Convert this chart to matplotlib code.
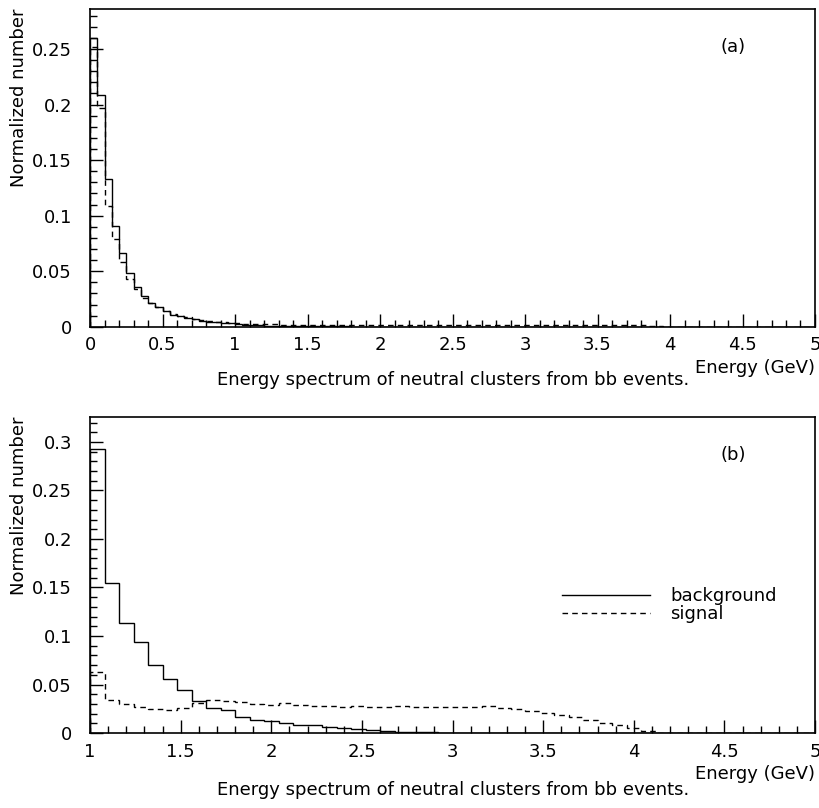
#!/usr/bin/env python3
import numpy as np
import matplotlib

matplotlib.use("Agg")
import matplotlib.pyplot as plt
from matplotlib.ticker import MultipleLocator, FormatStrFormatter

# (a) all clusters, 0-5 GeV, 100 bins of 0.05 GeV
edges_a = np.linspace(0.0, 5.0, 101)
background_a = [
    0.260, 0.209, 0.133, 0.091, 0.066, 0.048, 0.036, 0.028, 0.0215, 0.018,
    0.014, 0.011, 0.0098, 0.0083, 0.0068, 0.0054, 0.0045, 0.0040, 0.0033, 0.0030,
    0.0024, 0.0018, 0.0014, 0.0012, 0.0010, 0.0009, 0.0008, 0.0007, 0.0006, 0.0005,
    0.0005, 0.0004, 0.0004, 0.0003, 0.0003, 0.0003, 0.0002, 0.0002, 0.0002, 0.0002,
    0.0001, 0.0001, 0.0001, 0.0001, 0.0001, 0.0001, 0.0001, 0.0, 0.0001, 0.0,
    0.0, 0.0, 0.0, 0.0, 0.0, 0.0, 0.0, 0.0, 0.0, 0.0,
    0.0, 0.0, 0.0, 0.0, 0.0, 0.0, 0.0, 0.0, 0.0, 0.0,
    0.0, 0.0, 0.0, 0.0, 0.0, 0.0, 0.0, 0.0, 0.0, 0.0,
    0.0, 0.0, 0.0, 0.0, 0.0, 0.0, 0.0, 0.0, 0.0, 0.0,
    0.0, 0.0, 0.0, 0.0, 0.0, 0.0, 0.0, 0.0, 0.0, 0.0,
]
signal_a = [
    0.252, 0.197, 0.109, 0.079, 0.058, 0.043, 0.034, 0.026, 0.021, 0.018,
    0.014, 0.0115, 0.0098, 0.0085, 0.0072, 0.0062, 0.0053, 0.0046, 0.0040, 0.0035,
    0.0030, 0.0027, 0.0025, 0.0023, 0.0022, 0.0021, 0.0020, 0.0020, 0.0019, 0.0020,
    0.0019, 0.0018, 0.0019, 0.0018, 0.0017, 0.0018, 0.0017, 0.0018, 0.0017, 0.0016,
    0.0017, 0.0016, 0.0017, 0.0016, 0.0017, 0.0016, 0.0016, 0.0017, 0.0016, 0.0015,
    0.0016, 0.0016, 0.0015, 0.0016, 0.0015, 0.0016, 0.0015, 0.0016, 0.0015, 0.0016,
    0.0016, 0.0015, 0.0016, 0.0017, 0.0016, 0.0015, 0.0016, 0.0015, 0.0016, 0.0015,
    0.0015, 0.0016, 0.0014, 0.0015, 0.0013, 0.0012, 0.0012, 0.0008, 0.0004, 0.0001,
    0.0, 0.0, 0.0, 0.0, 0.0, 0.0, 0.0, 0.0, 0.0, 0.0,
    0.0, 0.0, 0.0, 0.0, 0.0, 0.0, 0.0, 0.0, 0.0, 0.0,
]

# (b) clusters above 1 GeV, 1-5 GeV, 50 bins of 0.08 GeV
edges_b = np.linspace(1.0, 5.0, 51)
background_b = [
    0.293, 0.155, 0.113, 0.094, 0.070, 0.056, 0.044, 0.033, 0.026, 0.024,
    0.016, 0.013, 0.012, 0.010, 0.0085, 0.008, 0.0065, 0.005, 0.004, 0.003,
    0.0022, 0.0015, 0.001, 0.0008, 0.0005, 0.0004, 0.0002, 0.0002, 0.0001, 0.0001,
    0.0, 0.0, 0.0, 0.0, 0.0, 0.0, 0.0, 0.0, 0.0, 0.0,
    0.0, 0.0, 0.0, 0.0, 0.0, 0.0, 0.0, 0.0, 0.0, 0.0,
]
signal_b = [
    0.063, 0.034, 0.030, 0.027, 0.025, 0.024, 0.026, 0.031, 0.034, 0.033,
    0.032, 0.030, 0.029, 0.031, 0.029, 0.028, 0.0275, 0.027, 0.0275, 0.027,
    0.027, 0.0275, 0.027, 0.027, 0.027, 0.027, 0.027, 0.028, 0.026, 0.025,
    0.023, 0.021, 0.019, 0.016, 0.013, 0.010, 0.008, 0.005, 0.002, 0.0003,
    0.0, 0.0, 0.0, 0.0, 0.0, 0.0, 0.0, 0.0, 0.0, 0.0,
]

caption = "Energy spectrum of neutral clusters from bb events."
FS = 13
DASH = (0, (4, 3))


def style_axes(ax, xlim, ylim):
    ax.set_xlim(*xlim)
    ax.set_ylim(*ylim)
    ax.xaxis.set_major_locator(MultipleLocator(0.5))
    ax.xaxis.set_minor_locator(MultipleLocator(0.1))
    ax.yaxis.set_major_locator(MultipleLocator(0.05))
    ax.yaxis.set_minor_locator(MultipleLocator(0.01))
    ax.xaxis.set_major_formatter(FormatStrFormatter("%g"))
    ax.yaxis.set_major_formatter(FormatStrFormatter("%g"))
    ax.tick_params(which="both", direction="in", top=False, right=False,
                   width=1.0, labelsize=FS)
    ax.tick_params(which="major", length=9.5)
    ax.tick_params(which="minor", length=5)
    ax.tick_params(axis="x", which="major", pad=7)
    ax.tick_params(axis="y", which="major", pad=13)
    for sp in ax.spines.values():
        sp.set_linewidth(1.2)
    ax.set_xlabel("Energy (GeV)", loc="right", fontsize=FS, labelpad=3)
    ax.set_ylabel("Normalized number", loc="top", fontsize=FS, labelpad=3)


def main() -> int:
    plt.rcParams["font.family"] = ["DejaVu Sans"]
    fig = plt.figure(figsize=(8.2, 8.08), dpi=100)

    ax_a = fig.add_axes([0.1098, 0.5956, 0.8841, 0.3933])
    ax_b = fig.add_axes([0.1098, 0.0928, 0.8841, 0.3915])

    ax_a.stairs(background_a, edges_a, color="black", lw=1.0)
    ax_a.stairs(signal_a, edges_a, color="black", lw=1.0, linestyle=DASH)
    style_axes(ax_a, (0, 5), (0, 0.286))
    ax_a.text(0.887, 0.88, "(a)", transform=ax_a.transAxes, fontsize=FS,
              ha="center", va="center")

    ax_b.stairs(background_b, edges_b, color="black", lw=1.0)
    ax_b.stairs(signal_b, edges_b, color="black", lw=1.0, linestyle=DASH)
    style_axes(ax_b, (1, 5), (0, 0.326))
    ax_b.text(0.887, 0.88, "(b)", transform=ax_b.transAxes, fontsize=FS,
              ha="center", va="center")

    handles = [
        plt.Line2D([], [], color="black", lw=1.0),
        plt.Line2D([], [], color="black", lw=1.0, linestyle=DASH),
    ]
    ax_b.legend(handles, ["background", "signal"], loc="center left",
                bbox_to_anchor=(0.651, 0.404), frameon=False, fontsize=13,
                handlelength=4.9, handletextpad=1.1, labelspacing=0.0,
                borderpad=0, borderaxespad=0)

    fig.text(0.552, 0.530, caption, ha="center", va="center", fontsize=FS)
    fig.text(0.552, 0.022, caption, ha="center", va="center", fontsize=FS)

    fig.savefig("out.png", dpi=100)
    return 0


if __name__ == "__main__":
    raise SystemExit(main())
